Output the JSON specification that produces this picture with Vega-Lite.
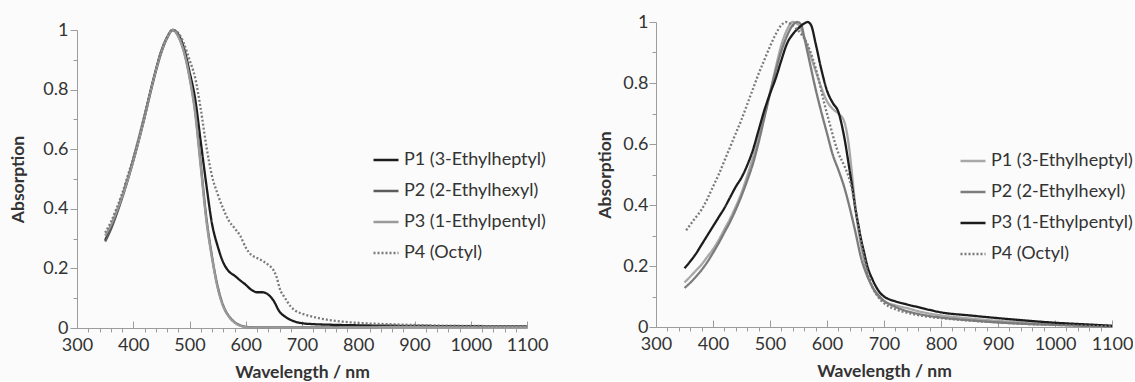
{
  "$schema": "https://vega.github.io/schema/vega-lite/v6.json",
  "background": "#fbfbfb",
  "padding": {"left": 9, "top": 13, "right": 0, "bottom": 0},
  "spacing": 48,
  "config": {
    "font": "Lato",
    "view": {"stroke": null},
    "axis": {
      "domainColor": "#9c9c9c", "tickColor": "#9c9c9c", "grid": false,
      "labelColor": "#333333", "labelFontSize": 18, "labelFont": "Lato",
      "titleColor": "#333333", "titleFontSize": 17.5, "titleFontWeight": "bold", "titleFont": "Lato",
      "labelOverlap": false, "labelFlush": false
    },
    "legend": {
      "title": null, "orient": "none", "symbolType": "stroke", "symbolSize": 625,
      "symbolStrokeWidth": 2.4, "labelFontSize": 18, "labelColor": "#333333", "labelFont": "Lato",
      "labelOffset": 4, "rowPadding": 8, "labelLimit": 300
    }
  },
  "datasets": {
    "left": [
      {"s":"P1 (3-Ethylheptyl)","x":350,"y":0.295},{"s":"P1 (3-Ethylheptyl)","x":360,"y":0.335},{"s":"P1 (3-Ethylheptyl)","x":370,"y":0.385},{"s":"P1 (3-Ethylheptyl)","x":380,"y":0.44},{"s":"P1 (3-Ethylheptyl)","x":390,"y":0.5},{"s":"P1 (3-Ethylheptyl)","x":400,"y":0.565},{"s":"P1 (3-Ethylheptyl)","x":410,"y":0.635},{"s":"P1 (3-Ethylheptyl)","x":420,"y":0.71},{"s":"P1 (3-Ethylheptyl)","x":430,"y":0.79},{"s":"P1 (3-Ethylheptyl)","x":440,"y":0.865},{"s":"P1 (3-Ethylheptyl)","x":450,"y":0.93},{"s":"P1 (3-Ethylheptyl)","x":460,"y":0.975},{"s":"P1 (3-Ethylheptyl)","x":470,"y":1.0},{"s":"P1 (3-Ethylheptyl)","x":480,"y":0.985},{"s":"P1 (3-Ethylheptyl)","x":490,"y":0.94},{"s":"P1 (3-Ethylheptyl)","x":500,"y":0.86},{"s":"P1 (3-Ethylheptyl)","x":510,"y":0.77},{"s":"P1 (3-Ethylheptyl)","x":520,"y":0.625},{"s":"P1 (3-Ethylheptyl)","x":530,"y":0.48},{"s":"P1 (3-Ethylheptyl)","x":540,"y":0.35},{"s":"P1 (3-Ethylheptyl)","x":550,"y":0.275},{"s":"P1 (3-Ethylheptyl)","x":560,"y":0.22},{"s":"P1 (3-Ethylheptyl)","x":570,"y":0.19},{"s":"P1 (3-Ethylheptyl)","x":580,"y":0.176},{"s":"P1 (3-Ethylheptyl)","x":590,"y":0.16},{"s":"P1 (3-Ethylheptyl)","x":600,"y":0.145},{"s":"P1 (3-Ethylheptyl)","x":610,"y":0.128},{"s":"P1 (3-Ethylheptyl)","x":620,"y":0.12},{"s":"P1 (3-Ethylheptyl)","x":630,"y":0.12},{"s":"P1 (3-Ethylheptyl)","x":640,"y":0.112},{"s":"P1 (3-Ethylheptyl)","x":650,"y":0.09},{"s":"P1 (3-Ethylheptyl)","x":660,"y":0.055},{"s":"P1 (3-Ethylheptyl)","x":670,"y":0.038},{"s":"P1 (3-Ethylheptyl)","x":680,"y":0.027},{"s":"P1 (3-Ethylheptyl)","x":690,"y":0.02},{"s":"P1 (3-Ethylheptyl)","x":700,"y":0.016},{"s":"P1 (3-Ethylheptyl)","x":720,"y":0.013},{"s":"P1 (3-Ethylheptyl)","x":750,"y":0.011},{"s":"P1 (3-Ethylheptyl)","x":800,"y":0.009},{"s":"P1 (3-Ethylheptyl)","x":900,"y":0.007},{"s":"P1 (3-Ethylheptyl)","x":1000,"y":0.006},{"s":"P1 (3-Ethylheptyl)","x":1100,"y":0.005},
      {"s":"P2 (2-Ethylhexyl)","x":350,"y":0.29},{"s":"P2 (2-Ethylhexyl)","x":360,"y":0.33},{"s":"P2 (2-Ethylhexyl)","x":370,"y":0.38},{"s":"P2 (2-Ethylhexyl)","x":380,"y":0.435},{"s":"P2 (2-Ethylhexyl)","x":390,"y":0.495},{"s":"P2 (2-Ethylhexyl)","x":400,"y":0.56},{"s":"P2 (2-Ethylhexyl)","x":410,"y":0.63},{"s":"P2 (2-Ethylhexyl)","x":420,"y":0.705},{"s":"P2 (2-Ethylhexyl)","x":430,"y":0.785},{"s":"P2 (2-Ethylhexyl)","x":440,"y":0.86},{"s":"P2 (2-Ethylhexyl)","x":450,"y":0.925},{"s":"P2 (2-Ethylhexyl)","x":460,"y":0.972},{"s":"P2 (2-Ethylhexyl)","x":470,"y":1.0},{"s":"P2 (2-Ethylhexyl)","x":480,"y":0.98},{"s":"P2 (2-Ethylhexyl)","x":490,"y":0.93},{"s":"P2 (2-Ethylhexyl)","x":500,"y":0.845},{"s":"P2 (2-Ethylhexyl)","x":510,"y":0.73},{"s":"P2 (2-Ethylhexyl)","x":520,"y":0.55},{"s":"P2 (2-Ethylhexyl)","x":530,"y":0.37},{"s":"P2 (2-Ethylhexyl)","x":540,"y":0.24},{"s":"P2 (2-Ethylhexyl)","x":550,"y":0.14},{"s":"P2 (2-Ethylhexyl)","x":560,"y":0.075},{"s":"P2 (2-Ethylhexyl)","x":570,"y":0.04},{"s":"P2 (2-Ethylhexyl)","x":580,"y":0.02},{"s":"P2 (2-Ethylhexyl)","x":590,"y":0.009},{"s":"P2 (2-Ethylhexyl)","x":600,"y":0.004},{"s":"P2 (2-Ethylhexyl)","x":620,"y":0.002},{"s":"P2 (2-Ethylhexyl)","x":700,"y":0.002},{"s":"P2 (2-Ethylhexyl)","x":800,"y":0.003},{"s":"P2 (2-Ethylhexyl)","x":900,"y":0.004},{"s":"P2 (2-Ethylhexyl)","x":1000,"y":0.004},{"s":"P2 (2-Ethylhexyl)","x":1100,"y":0.004},
      {"s":"P3 (1-Ethylpentyl)","x":350,"y":0.31},{"s":"P3 (1-Ethylpentyl)","x":360,"y":0.345},{"s":"P3 (1-Ethylpentyl)","x":370,"y":0.39},{"s":"P3 (1-Ethylpentyl)","x":380,"y":0.44},{"s":"P3 (1-Ethylpentyl)","x":390,"y":0.498},{"s":"P3 (1-Ethylpentyl)","x":400,"y":0.562},{"s":"P3 (1-Ethylpentyl)","x":410,"y":0.632},{"s":"P3 (1-Ethylpentyl)","x":420,"y":0.707},{"s":"P3 (1-Ethylpentyl)","x":430,"y":0.787},{"s":"P3 (1-Ethylpentyl)","x":440,"y":0.862},{"s":"P3 (1-Ethylpentyl)","x":450,"y":0.927},{"s":"P3 (1-Ethylpentyl)","x":460,"y":0.973},{"s":"P3 (1-Ethylpentyl)","x":470,"y":1.0},{"s":"P3 (1-Ethylpentyl)","x":480,"y":0.978},{"s":"P3 (1-Ethylpentyl)","x":490,"y":0.926},{"s":"P3 (1-Ethylpentyl)","x":500,"y":0.84},{"s":"P3 (1-Ethylpentyl)","x":510,"y":0.72},{"s":"P3 (1-Ethylpentyl)","x":520,"y":0.54},{"s":"P3 (1-Ethylpentyl)","x":530,"y":0.36},{"s":"P3 (1-Ethylpentyl)","x":540,"y":0.235},{"s":"P3 (1-Ethylpentyl)","x":550,"y":0.135},{"s":"P3 (1-Ethylpentyl)","x":560,"y":0.072},{"s":"P3 (1-Ethylpentyl)","x":570,"y":0.038},{"s":"P3 (1-Ethylpentyl)","x":580,"y":0.018},{"s":"P3 (1-Ethylpentyl)","x":590,"y":0.008},{"s":"P3 (1-Ethylpentyl)","x":600,"y":0.003},{"s":"P3 (1-Ethylpentyl)","x":620,"y":0.001},{"s":"P3 (1-Ethylpentyl)","x":700,"y":0.001},{"s":"P3 (1-Ethylpentyl)","x":800,"y":0.002},{"s":"P3 (1-Ethylpentyl)","x":900,"y":0.003},{"s":"P3 (1-Ethylpentyl)","x":1000,"y":0.003},{"s":"P3 (1-Ethylpentyl)","x":1100,"y":0.003},
      {"s":"P4 (Octyl)","x":350,"y":0.32},{"s":"P4 (Octyl)","x":360,"y":0.355},{"s":"P4 (Octyl)","x":370,"y":0.4},{"s":"P4 (Octyl)","x":380,"y":0.45},{"s":"P4 (Octyl)","x":390,"y":0.51},{"s":"P4 (Octyl)","x":400,"y":0.57},{"s":"P4 (Octyl)","x":410,"y":0.64},{"s":"P4 (Octyl)","x":420,"y":0.715},{"s":"P4 (Octyl)","x":430,"y":0.79},{"s":"P4 (Octyl)","x":440,"y":0.865},{"s":"P4 (Octyl)","x":450,"y":0.93},{"s":"P4 (Octyl)","x":460,"y":0.975},{"s":"P4 (Octyl)","x":470,"y":1.0},{"s":"P4 (Octyl)","x":480,"y":0.99},{"s":"P4 (Octyl)","x":490,"y":0.955},{"s":"P4 (Octyl)","x":500,"y":0.9},{"s":"P4 (Octyl)","x":510,"y":0.84},{"s":"P4 (Octyl)","x":520,"y":0.735},{"s":"P4 (Octyl)","x":530,"y":0.61},{"s":"P4 (Octyl)","x":540,"y":0.51},{"s":"P4 (Octyl)","x":550,"y":0.45},{"s":"P4 (Octyl)","x":560,"y":0.4},{"s":"P4 (Octyl)","x":570,"y":0.36},{"s":"P4 (Octyl)","x":580,"y":0.335},{"s":"P4 (Octyl)","x":590,"y":0.31},{"s":"P4 (Octyl)","x":600,"y":0.27},{"s":"P4 (Octyl)","x":610,"y":0.245},{"s":"P4 (Octyl)","x":620,"y":0.235},{"s":"P4 (Octyl)","x":630,"y":0.225},{"s":"P4 (Octyl)","x":640,"y":0.212},{"s":"P4 (Octyl)","x":650,"y":0.192},{"s":"P4 (Octyl)","x":655,"y":0.17},{"s":"P4 (Octyl)","x":660,"y":0.135},{"s":"P4 (Octyl)","x":670,"y":0.1},{"s":"P4 (Octyl)","x":680,"y":0.072},{"s":"P4 (Octyl)","x":690,"y":0.056},{"s":"P4 (Octyl)","x":700,"y":0.048},{"s":"P4 (Octyl)","x":715,"y":0.04},{"s":"P4 (Octyl)","x":730,"y":0.033},{"s":"P4 (Octyl)","x":760,"y":0.024},{"s":"P4 (Octyl)","x":800,"y":0.017},{"s":"P4 (Octyl)","x":850,"y":0.013},{"s":"P4 (Octyl)","x":900,"y":0.01},{"s":"P4 (Octyl)","x":1000,"y":0.007},{"s":"P4 (Octyl)","x":1100,"y":0.006}
    ],
    "right": [
      {"s":"P1 (3-Ethylheptyl)","x":350,"y":0.146},{"s":"P1 (3-Ethylheptyl)","x":360,"y":0.165},{"s":"P1 (3-Ethylheptyl)","x":370,"y":0.185},{"s":"P1 (3-Ethylheptyl)","x":380,"y":0.205},{"s":"P1 (3-Ethylheptyl)","x":390,"y":0.23},{"s":"P1 (3-Ethylheptyl)","x":400,"y":0.255},{"s":"P1 (3-Ethylheptyl)","x":410,"y":0.285},{"s":"P1 (3-Ethylheptyl)","x":420,"y":0.32},{"s":"P1 (3-Ethylheptyl)","x":430,"y":0.355},{"s":"P1 (3-Ethylheptyl)","x":440,"y":0.395},{"s":"P1 (3-Ethylheptyl)","x":450,"y":0.44},{"s":"P1 (3-Ethylheptyl)","x":460,"y":0.495},{"s":"P1 (3-Ethylheptyl)","x":470,"y":0.555},{"s":"P1 (3-Ethylheptyl)","x":480,"y":0.62},{"s":"P1 (3-Ethylheptyl)","x":490,"y":0.69},{"s":"P1 (3-Ethylheptyl)","x":500,"y":0.77},{"s":"P1 (3-Ethylheptyl)","x":510,"y":0.85},{"s":"P1 (3-Ethylheptyl)","x":520,"y":0.925},{"s":"P1 (3-Ethylheptyl)","x":530,"y":0.975},{"s":"P1 (3-Ethylheptyl)","x":540,"y":1.0},{"s":"P1 (3-Ethylheptyl)","x":550,"y":0.99},{"s":"P1 (3-Ethylheptyl)","x":560,"y":0.95},{"s":"P1 (3-Ethylheptyl)","x":570,"y":0.895},{"s":"P1 (3-Ethylheptyl)","x":580,"y":0.84},{"s":"P1 (3-Ethylheptyl)","x":590,"y":0.785},{"s":"P1 (3-Ethylheptyl)","x":600,"y":0.74},{"s":"P1 (3-Ethylheptyl)","x":610,"y":0.715},{"s":"P1 (3-Ethylheptyl)","x":620,"y":0.7},{"s":"P1 (3-Ethylheptyl)","x":630,"y":0.675},{"s":"P1 (3-Ethylheptyl)","x":640,"y":0.57},{"s":"P1 (3-Ethylheptyl)","x":645,"y":0.48},{"s":"P1 (3-Ethylheptyl)","x":650,"y":0.39},{"s":"P1 (3-Ethylheptyl)","x":655,"y":0.32},{"s":"P1 (3-Ethylheptyl)","x":660,"y":0.265},{"s":"P1 (3-Ethylheptyl)","x":665,"y":0.22},{"s":"P1 (3-Ethylheptyl)","x":670,"y":0.18},{"s":"P1 (3-Ethylheptyl)","x":680,"y":0.13},{"s":"P1 (3-Ethylheptyl)","x":690,"y":0.1},{"s":"P1 (3-Ethylheptyl)","x":700,"y":0.085},{"s":"P1 (3-Ethylheptyl)","x":720,"y":0.071},{"s":"P1 (3-Ethylheptyl)","x":740,"y":0.062},{"s":"P1 (3-Ethylheptyl)","x":760,"y":0.052},{"s":"P1 (3-Ethylheptyl)","x":780,"y":0.044},{"s":"P1 (3-Ethylheptyl)","x":800,"y":0.038},{"s":"P1 (3-Ethylheptyl)","x":850,"y":0.028},{"s":"P1 (3-Ethylheptyl)","x":900,"y":0.02},{"s":"P1 (3-Ethylheptyl)","x":950,"y":0.014},{"s":"P1 (3-Ethylheptyl)","x":1000,"y":0.009},{"s":"P1 (3-Ethylheptyl)","x":1050,"y":0.005},{"s":"P1 (3-Ethylheptyl)","x":1100,"y":0.003},
      {"s":"P2 (2-Ethylhexyl)","x":350,"y":0.128},{"s":"P2 (2-Ethylhexyl)","x":360,"y":0.145},{"s":"P2 (2-Ethylhexyl)","x":370,"y":0.165},{"s":"P2 (2-Ethylhexyl)","x":380,"y":0.187},{"s":"P2 (2-Ethylhexyl)","x":390,"y":0.213},{"s":"P2 (2-Ethylhexyl)","x":400,"y":0.243},{"s":"P2 (2-Ethylhexyl)","x":410,"y":0.275},{"s":"P2 (2-Ethylhexyl)","x":420,"y":0.31},{"s":"P2 (2-Ethylhexyl)","x":430,"y":0.345},{"s":"P2 (2-Ethylhexyl)","x":440,"y":0.385},{"s":"P2 (2-Ethylhexyl)","x":450,"y":0.43},{"s":"P2 (2-Ethylhexyl)","x":460,"y":0.48},{"s":"P2 (2-Ethylhexyl)","x":470,"y":0.535},{"s":"P2 (2-Ethylhexyl)","x":480,"y":0.605},{"s":"P2 (2-Ethylhexyl)","x":490,"y":0.685},{"s":"P2 (2-Ethylhexyl)","x":500,"y":0.765},{"s":"P2 (2-Ethylhexyl)","x":510,"y":0.84},{"s":"P2 (2-Ethylhexyl)","x":520,"y":0.905},{"s":"P2 (2-Ethylhexyl)","x":530,"y":0.955},{"s":"P2 (2-Ethylhexyl)","x":540,"y":0.99},{"s":"P2 (2-Ethylhexyl)","x":548,"y":1.0},{"s":"P2 (2-Ethylhexyl)","x":555,"y":0.99},{"s":"P2 (2-Ethylhexyl)","x":560,"y":0.95},{"s":"P2 (2-Ethylhexyl)","x":570,"y":0.865},{"s":"P2 (2-Ethylhexyl)","x":580,"y":0.78},{"s":"P2 (2-Ethylhexyl)","x":590,"y":0.705},{"s":"P2 (2-Ethylhexyl)","x":600,"y":0.635},{"s":"P2 (2-Ethylhexyl)","x":610,"y":0.565},{"s":"P2 (2-Ethylhexyl)","x":620,"y":0.515},{"s":"P2 (2-Ethylhexyl)","x":630,"y":0.46},{"s":"P2 (2-Ethylhexyl)","x":640,"y":0.39},{"s":"P2 (2-Ethylhexyl)","x":650,"y":0.31},{"s":"P2 (2-Ethylhexyl)","x":660,"y":0.225},{"s":"P2 (2-Ethylhexyl)","x":670,"y":0.17},{"s":"P2 (2-Ethylhexyl)","x":680,"y":0.13},{"s":"P2 (2-Ethylhexyl)","x":690,"y":0.105},{"s":"P2 (2-Ethylhexyl)","x":700,"y":0.086},{"s":"P2 (2-Ethylhexyl)","x":720,"y":0.066},{"s":"P2 (2-Ethylhexyl)","x":740,"y":0.052},{"s":"P2 (2-Ethylhexyl)","x":760,"y":0.043},{"s":"P2 (2-Ethylhexyl)","x":780,"y":0.036},{"s":"P2 (2-Ethylhexyl)","x":800,"y":0.031},{"s":"P2 (2-Ethylhexyl)","x":850,"y":0.022},{"s":"P2 (2-Ethylhexyl)","x":900,"y":0.015},{"s":"P2 (2-Ethylhexyl)","x":950,"y":0.01},{"s":"P2 (2-Ethylhexyl)","x":1000,"y":0.007},{"s":"P2 (2-Ethylhexyl)","x":1050,"y":0.004},{"s":"P2 (2-Ethylhexyl)","x":1100,"y":0.002},
      {"s":"P3 (1-Ethylpentyl)","x":350,"y":0.193},{"s":"P3 (1-Ethylpentyl)","x":360,"y":0.215},{"s":"P3 (1-Ethylpentyl)","x":370,"y":0.24},{"s":"P3 (1-Ethylpentyl)","x":380,"y":0.27},{"s":"P3 (1-Ethylpentyl)","x":390,"y":0.3},{"s":"P3 (1-Ethylpentyl)","x":400,"y":0.33},{"s":"P3 (1-Ethylpentyl)","x":410,"y":0.36},{"s":"P3 (1-Ethylpentyl)","x":420,"y":0.39},{"s":"P3 (1-Ethylpentyl)","x":430,"y":0.425},{"s":"P3 (1-Ethylpentyl)","x":440,"y":0.46},{"s":"P3 (1-Ethylpentyl)","x":450,"y":0.49},{"s":"P3 (1-Ethylpentyl)","x":460,"y":0.53},{"s":"P3 (1-Ethylpentyl)","x":470,"y":0.58},{"s":"P3 (1-Ethylpentyl)","x":480,"y":0.645},{"s":"P3 (1-Ethylpentyl)","x":490,"y":0.71},{"s":"P3 (1-Ethylpentyl)","x":500,"y":0.765},{"s":"P3 (1-Ethylpentyl)","x":510,"y":0.815},{"s":"P3 (1-Ethylpentyl)","x":520,"y":0.875},{"s":"P3 (1-Ethylpentyl)","x":530,"y":0.93},{"s":"P3 (1-Ethylpentyl)","x":540,"y":0.96},{"s":"P3 (1-Ethylpentyl)","x":550,"y":0.98},{"s":"P3 (1-Ethylpentyl)","x":560,"y":0.995},{"s":"P3 (1-Ethylpentyl)","x":566,"y":1.0},{"s":"P3 (1-Ethylpentyl)","x":572,"y":0.99},{"s":"P3 (1-Ethylpentyl)","x":580,"y":0.93},{"s":"P3 (1-Ethylpentyl)","x":590,"y":0.845},{"s":"P3 (1-Ethylpentyl)","x":600,"y":0.775},{"s":"P3 (1-Ethylpentyl)","x":610,"y":0.735},{"s":"P3 (1-Ethylpentyl)","x":620,"y":0.705},{"s":"P3 (1-Ethylpentyl)","x":630,"y":0.625},{"s":"P3 (1-Ethylpentyl)","x":640,"y":0.51},{"s":"P3 (1-Ethylpentyl)","x":645,"y":0.45},{"s":"P3 (1-Ethylpentyl)","x":650,"y":0.385},{"s":"P3 (1-Ethylpentyl)","x":655,"y":0.335},{"s":"P3 (1-Ethylpentyl)","x":660,"y":0.285},{"s":"P3 (1-Ethylpentyl)","x":665,"y":0.245},{"s":"P3 (1-Ethylpentyl)","x":670,"y":0.205},{"s":"P3 (1-Ethylpentyl)","x":680,"y":0.155},{"s":"P3 (1-Ethylpentyl)","x":690,"y":0.12},{"s":"P3 (1-Ethylpentyl)","x":700,"y":0.1},{"s":"P3 (1-Ethylpentyl)","x":710,"y":0.09},{"s":"P3 (1-Ethylpentyl)","x":720,"y":0.084},{"s":"P3 (1-Ethylpentyl)","x":740,"y":0.074},{"s":"P3 (1-Ethylpentyl)","x":760,"y":0.065},{"s":"P3 (1-Ethylpentyl)","x":780,"y":0.056},{"s":"P3 (1-Ethylpentyl)","x":800,"y":0.048},{"s":"P3 (1-Ethylpentyl)","x":850,"y":0.038},{"s":"P3 (1-Ethylpentyl)","x":900,"y":0.029},{"s":"P3 (1-Ethylpentyl)","x":950,"y":0.021},{"s":"P3 (1-Ethylpentyl)","x":1000,"y":0.014},{"s":"P3 (1-Ethylpentyl)","x":1050,"y":0.009},{"s":"P3 (1-Ethylpentyl)","x":1100,"y":0.004},
      {"s":"P4 (Octyl)","x":353,"y":0.317},{"s":"P4 (Octyl)","x":360,"y":0.335},{"s":"P4 (Octyl)","x":370,"y":0.36},{"s":"P4 (Octyl)","x":380,"y":0.385},{"s":"P4 (Octyl)","x":390,"y":0.42},{"s":"P4 (Octyl)","x":400,"y":0.46},{"s":"P4 (Octyl)","x":410,"y":0.5},{"s":"P4 (Octyl)","x":420,"y":0.545},{"s":"P4 (Octyl)","x":430,"y":0.59},{"s":"P4 (Octyl)","x":440,"y":0.635},{"s":"P4 (Octyl)","x":450,"y":0.68},{"s":"P4 (Octyl)","x":460,"y":0.73},{"s":"P4 (Octyl)","x":470,"y":0.78},{"s":"P4 (Octyl)","x":480,"y":0.83},{"s":"P4 (Octyl)","x":490,"y":0.875},{"s":"P4 (Octyl)","x":500,"y":0.92},{"s":"P4 (Octyl)","x":510,"y":0.96},{"s":"P4 (Octyl)","x":520,"y":0.99},{"s":"P4 (Octyl)","x":528,"y":1.0},{"s":"P4 (Octyl)","x":535,"y":0.995},{"s":"P4 (Octyl)","x":545,"y":0.98},{"s":"P4 (Octyl)","x":555,"y":0.96},{"s":"P4 (Octyl)","x":565,"y":0.93},{"s":"P4 (Octyl)","x":575,"y":0.88},{"s":"P4 (Octyl)","x":585,"y":0.815},{"s":"P4 (Octyl)","x":595,"y":0.735},{"s":"P4 (Octyl)","x":605,"y":0.665},{"s":"P4 (Octyl)","x":613,"y":0.61},{"s":"P4 (Octyl)","x":620,"y":0.57},{"s":"P4 (Octyl)","x":630,"y":0.53},{"s":"P4 (Octyl)","x":640,"y":0.48},{"s":"P4 (Octyl)","x":645,"y":0.44},{"s":"P4 (Octyl)","x":650,"y":0.39},{"s":"P4 (Octyl)","x":655,"y":0.33},{"s":"P4 (Octyl)","x":660,"y":0.275},{"s":"P4 (Octyl)","x":665,"y":0.23},{"s":"P4 (Octyl)","x":670,"y":0.19},{"s":"P4 (Octyl)","x":680,"y":0.13},{"s":"P4 (Octyl)","x":690,"y":0.098},{"s":"P4 (Octyl)","x":700,"y":0.078},{"s":"P4 (Octyl)","x":720,"y":0.058},{"s":"P4 (Octyl)","x":740,"y":0.047},{"s":"P4 (Octyl)","x":760,"y":0.039},{"s":"P4 (Octyl)","x":780,"y":0.033},{"s":"P4 (Octyl)","x":800,"y":0.029},{"s":"P4 (Octyl)","x":850,"y":0.021},{"s":"P4 (Octyl)","x":900,"y":0.015},{"s":"P4 (Octyl)","x":950,"y":0.01},{"s":"P4 (Octyl)","x":1000,"y":0.007},{"s":"P4 (Octyl)","x":1050,"y":0.004},{"s":"P4 (Octyl)","x":1100,"y":0.002}
    ],
    "spacer": [{}]
  },
  "hconcat": [
    {
      "spacing": -2,
      "vconcat": [
        {
          "width": 450, "height": 1,
          "data": {"name": "spacer"},
          "mark": {"type": "rule", "opacity": 0},
          "encoding": {}
        },
        {
          "width": 450, "height": 298,
          "data": {"name": "left"},
          "mark": {"type": "line", "strokeWidth": 2.3, "interpolate": "monotone"},
          "encoding": {
            "x": {"field": "x", "type": "quantitative", "scale": {"domain": [300, 1100], "nice": false},
              "axis": {"title": "Wavelength / nm", "format": "d", "values": [300,320,340,360,380,400,420,440,460,480,500,520,540,560,580,600,620,640,660,680,700,720,740,760,780,800,820,840,860,880,900,920,940,960,980,1000,1020,1040,1060,1080,1100],
                "labelExpr": "datum.value % 100 === 0 ? datum.label : ''",
                "tickSize": {"condition": {"test": "datum.value % 100 === 0", "value": -7}, "value": 4},
                "labelPadding": 15, "titlePadding": -2}},
            "y": {"field": "y", "type": "quantitative", "scale": {"domain": [0, 1], "nice": false},
              "axis": {"title": "Absorption", "values": [0,0.1,0.2,0.3,0.4,0.5,0.6,0.7,0.8,0.9,1], "format": "~g",
                "labelExpr": "indexof(['0','0.2','0.4','0.6','0.8','1'], datum.label) >= 0 ? datum.label : ''",
                "tickSize": {"condition": {"test": "indexof([1,3,5,7,9], round(datum.value*10)) >= 0", "value": 4}, "value": 7},
                "labelPadding": 2, "titlePadding": 15}},
            "color": {"field": "s", "type": "nominal",
              "scale": {"domain": ["P1 (3-Ethylheptyl)","P2 (2-Ethylhexyl)","P3 (1-Ethylpentyl)","P4 (Octyl)"], "range": ["#1c1c1c","#5c5c5c","#9a9a9a","#7a7a7a"]},
              "legend": {"legendX": 295, "legendY": 124}},
            "strokeDash": {"field": "s", "type": "nominal",
              "scale": {"domain": ["P1 (3-Ethylheptyl)","P2 (2-Ethylhexyl)","P3 (1-Ethylpentyl)","P4 (Octyl)"], "range": [[1,0],[1,0],[1,0],[2,2]]},
              "legend": {"legendX": 295, "legendY": 124}}
          }
        }
      ]
    },
    {
      "width": 456, "height": 305,
      "data": {"name": "right"},
      "mark": {"type": "line", "strokeWidth": 2.3, "interpolate": "monotone"},
      "encoding": {
        "x": {"field": "x", "type": "quantitative", "scale": {"domain": [300, 1100], "nice": false},
          "axis": {"title": "Wavelength / nm", "format": "d", "values": [300,320,340,360,380,400,420,440,460,480,500,520,540,560,580,600,620,640,660,680,700,720,740,760,780,800,820,840,860,880,900,920,940,960,980,1000,1020,1040,1060,1080,1100],
            "labelExpr": "datum.value % 100 === 0 ? datum.label : ''",
            "tickSize": {"condition": {"test": "datum.value % 100 === 0", "value": -7}, "value": 4},
            "labelPadding": 15, "titlePadding": -2}},
        "y": {"field": "y", "type": "quantitative", "scale": {"domain": [0, 1], "nice": false},
          "axis": {"title": "Absorption", "values": [0,0.1,0.2,0.3,0.4,0.5,0.6,0.7,0.8,0.9,1], "format": "~g",
            "labelExpr": "indexof(['0','0.2','0.4','0.6','0.8','1'], datum.label) >= 0 ? datum.label : ''",
            "tickSize": {"condition": {"test": "indexof([1,3,5,7,9], round(datum.value*10)) >= 0", "value": 4}, "value": 7},
            "labelPadding": 1, "titlePadding": 8}},
        "color": {"field": "s", "type": "nominal",
          "scale": {"domain": ["P1 (3-Ethylheptyl)","P2 (2-Ethylhexyl)","P3 (1-Ethylpentyl)","P4 (Octyl)"], "range": ["#a8a8a8","#7c7c7c","#1c1c1c","#7a7a7a"]},
          "legend": {"legendX": 303, "legendY": 125}},
        "strokeDash": {"field": "s", "type": "nominal",
          "scale": {"domain": ["P1 (3-Ethylheptyl)","P2 (2-Ethylhexyl)","P3 (1-Ethylpentyl)","P4 (Octyl)"], "range": [[1,0],[1,0],[1,0],[2,2]]},
          "legend": {"legendX": 303, "legendY": 125}}
      }
    }
  ],
  "resolve": {"scale": {"color": "independent", "strokeDash": "independent"}, "legend": {"color": "independent", "strokeDash": "independent"}}
}
